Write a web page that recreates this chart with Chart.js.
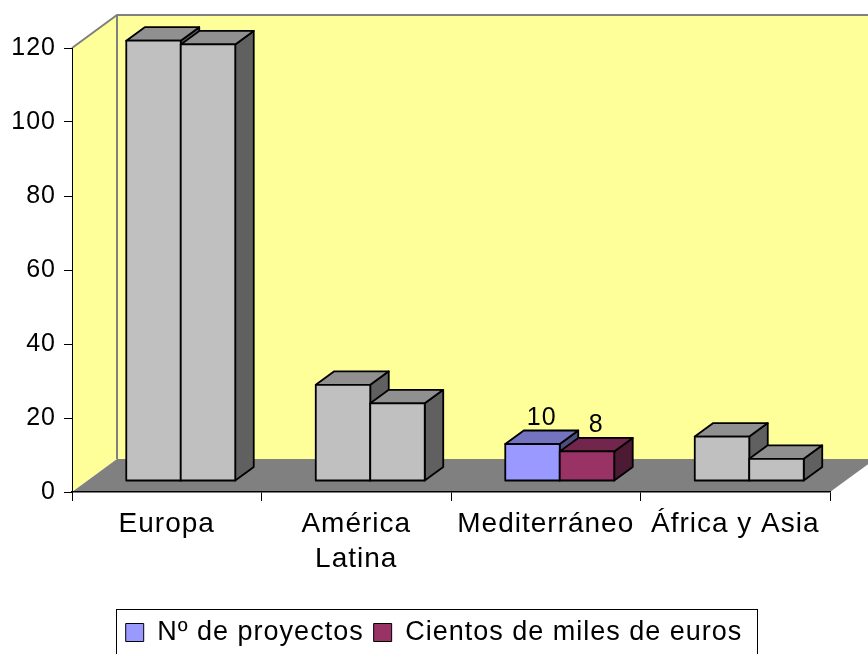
<!DOCTYPE html>
<html>
<head>
<meta charset="utf-8">
<script src="https://cdn.jsdelivr.net/npm/chart.js@4.4.0/dist/chart.umd.min.js"></script>
<style>
  html, body { margin: 0; padding: 0; background: #fff; overflow: hidden; }
  canvas { display: block; }
</style>
</head>
<body>
<canvas id="regionChart" width="868" height="654"></canvas>
<script>
// * datos
const regiones = ["Europa", ["América", "Latina"], "Mediterráneo", "África y Asia"];
const proyectos = [119, 26, 10, 12];
const cientos = [118, 21, 8, 6];
const series = ["Nº de proyectos", "Cientos de miles de euros"];
const yMin = 0;
const yMax = 120;
const yStep = 20;
// solo Mediterráneo va en color y con su valor encima
const destacado = [false, false, true, false];

// * colores y medidas
const FUENTE = "'Liberation Sans', Arial, sans-serif";
const gris = "#C0C0C0";
const serieColor = ["#9999FF", "#993366"];
const FONDO = "#FFFF99";
const SUELO = "#808080";
const BORDE = "#808080";
const PROF_X = 45, PROF_Y = -33; // fondo de la caja
const FRENTE_X = 14, FRENTE_Y = -11; // cara frontal de las barras
const LADO_X = 18.5, LADO_Y = -13.5; // grosor de las barras

const colores = (c) => regiones.map((r, i) => (destacado[i] ? c : gris));

function sombra(hex, f) {
  const n = parseInt(hex.slice(1), 16);
  const r = Math.round(((n >> 16) & 255) * f);
  const g = Math.round(((n >> 8) & 255) * f);
  const b = Math.round((n & 255) * f);
  return `rgb(${r},${g},${b})`;
}

function poligono(ctx, pts, fill, stroke, lw) {
  ctx.beginPath();
  pts.forEach(([x, y], i) => (i ? ctx.lineTo(x, y) : ctx.moveTo(x, y)));
  ctx.closePath();
  if (fill) {
    ctx.fillStyle = fill;
    ctx.fill();
  }
  if (stroke) {
    ctx.strokeStyle = stroke;
    ctx.lineWidth = lw || 1;
    ctx.stroke();
  }
}

function barra3d(ctx, l, r, t, b, color) {
  const lw = 1.8;
  // lado, tapa y frente
  poligono(ctx, [[r, b], [r + LADO_X, b + LADO_Y], [r + LADO_X, t + LADO_Y], [r, t]], sombra(color, 0.5), "#000", lw);
  poligono(ctx, [[l, t], [r, t], [r + LADO_X, t + LADO_Y], [l + LADO_X, t + LADO_Y]], sombra(color, 0.75), "#000", lw);
  poligono(ctx, [[l, t], [r, t], [r, b], [l, b]], color, "#000", lw);
}

// ? paredes, suelo y barras en 3d
const caja3d = {
  id: "caja3d",
  beforeLayout(chart) {
    chart.ctx.letterSpacing = "1px";
  },
  afterLayout(chart) {
    // la leyenda se centra en todo el ancho, no solo hasta el borde derecho del grafico
    const lg = chart.legend;
    if (lg) {
      lg.left = 0;
      lg.right = chart.width;
      lg.width = chart.width;
      lg.top += 2;
      lg.bottom += 2;
    }
  },
  beforeDraw(chart) {
    const { ctx, chartArea: a } = chart;
    ctx.letterSpacing = "1px";
    ctx.save();
    // pared izquierda y pared del fondo
    poligono(ctx, [[a.left, a.top], [a.left + PROF_X, a.top + PROF_Y], [a.left + PROF_X, a.bottom + PROF_Y], [a.left, a.bottom]], FONDO);
    poligono(ctx, [[a.left + PROF_X, a.top + PROF_Y], [a.right + PROF_X, a.top + PROF_Y], [a.right + PROF_X, a.bottom + PROF_Y], [a.left + PROF_X, a.bottom + PROF_Y]], FONDO);
    // suelo
    poligono(ctx, [[a.left, a.bottom], [a.right, a.bottom], [a.right + PROF_X, a.bottom + PROF_Y], [a.left + PROF_X, a.bottom + PROF_Y]], SUELO);
    // aristas
    ctx.strokeStyle = BORDE;
    ctx.lineWidth = 2;
    ctx.beginPath();
    ctx.moveTo(a.left, a.top);
    ctx.lineTo(a.left + PROF_X, a.top + PROF_Y);
    ctx.lineTo(a.right + PROF_X, a.top + PROF_Y);
    ctx.moveTo(a.left + PROF_X, a.top + PROF_Y);
    ctx.lineTo(a.left + PROF_X, a.bottom + PROF_Y);
    ctx.stroke();
    ctx.restore();
  },
  beforeDatasetsDraw(chart) {
    const ctx = chart.ctx;
    const sets = chart.data.datasets;
    const etiquetas = [];
    ctx.save();
    ctx.lineJoin = "round";
    regiones.forEach((reg, i) => {
      sets.forEach((ds, d) => {
        const el = chart.getDatasetMeta(d).data[i];
        const { x, y, base, width } = el.getProps(["x", "y", "base", "width"], true);
        const l = x - width / 2 + FRENTE_X;
        const r = x + width / 2 + FRENTE_X;
        const t = y + FRENTE_Y;
        const b = base + FRENTE_Y;
        barra3d(ctx, l, r, t, b, ds.backgroundColor[i]);
        if (destacado[i]) {
          etiquetas.push([ds.data[i], (l + r) / 2 + LADO_X / 2, t + LADO_Y - 6]);
        }
      });
    });
    ctx.fillStyle = "#000";
    ctx.font = `25px ${FUENTE}`;
    ctx.textAlign = "center";
    ctx.textBaseline = "alphabetic";
    etiquetas.forEach(([v, x, y]) => ctx.fillText(v, x, y));
    ctx.restore();
    return false;
  },
  afterDraw(chart) {
    // marco de la leyenda
    const { ctx, legend: lg } = chart;
    const hb = lg.legendHitBoxes;
    if (!hb || !hb.length) return;
    const x0 = hb[0].left - 10;
    const last = hb[hb.length - 1];
    const x1 = last.left + last.width + 14;
    ctx.save();
    ctx.strokeStyle = "#000";
    ctx.lineWidth = 1;
    ctx.strokeRect(Math.round(x0) + 0.5, Math.round(lg.top) + 0.5, Math.round(x1 - x0), 80);
    ctx.restore();
  },
};

const barCanvas = document.getElementById("regionChart").getContext("2d");
const barData = {
  labels: regiones,
  datasets: [
    {
      label: series[0],
      data: proyectos,
      backgroundColor: colores(serieColor[0]),
    },
    {
      label: series[1],
      data: cientos,
      backgroundColor: colores(serieColor[1]),
    },
  ],
};

const barChart = new Chart(barCanvas, {
  type: "bar",
  data: barData,
  plugins: [caja3d],
  options: {
    responsive: false,
    animation: false,
    events: [],
    categoryPercentage: 0.575,
    barPercentage: 1,
    layout: { padding: { top: 48, right: 38, left: 0, bottom: 0 } },
    scales: {
      x: {
        grid: { offset: true, drawOnChartArea: false, tickLength: 9, color: "#000" },
        border: { color: "#000", width: 1.5 },
        ticks: {
          color: "#000",
          font: { family: FUENTE, size: 28, lineHeight: 1.25 },
          padding: 6,
          maxRotation: 0,
          autoSkip: false,
        },
        afterFit: (scale) => {
          const lh = scale.chart.legend ? scale.chart.legend.height : 47;
          scale.height = scale.chart.height - 492 - lh;
        },
      },
      y: {
        min: yMin,
        max: yMax,
        grid: { drawOnChartArea: false, tickLength: 8, color: "#000" },
        border: { color: "#000", width: 1 },
        ticks: {
          stepSize: yStep,
          color: "#000",
          font: { family: FUENTE, size: 25 },
          padding: 8,
        },
        afterFit: (scale) => {
          scale.width = 72;
        },
      },
    },
    plugins: {
      tooltip: { enabled: false },
      legend: {
        position: "bottom",
        onClick: null,
        labels: {
          color: "#000",
          font: { family: FUENTE, size: 27 },
          boxWidth: 18,
          boxHeight: 18,
          padding: 10,
          generateLabels: () =>
            series.map((s, i) => ({
              text: s,
              fillStyle: serieColor[i],
              strokeStyle: "#000",
              lineWidth: 1,
              datasetIndex: i,
              hidden: false,
            })),
        },
      },
    },
  },
});
</script>
</body>
</html>
